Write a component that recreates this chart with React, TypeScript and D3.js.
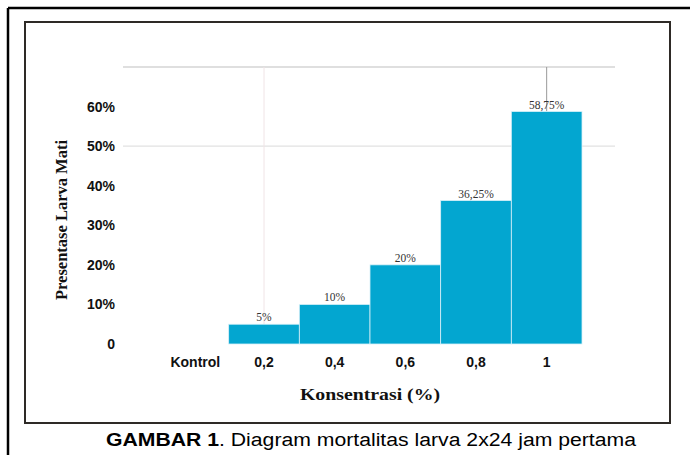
import * as d3 from "d3";

// Chart data
const categories = ["Kontrol", "0,2", "0,4", "0,6", "0,8", "1"];
const mortality = [0, 5, 10, 20, 36.25, 58.75];
const valueLabels = ["", "5%", "10%", "20%", "36,25%", "58,75%"];
const yTicks = [0, 10, 20, 30, 40, 50, 60];

const W = 690;
const H = 455;

export default function App() {
  const x = d3.scaleBand<string>().domain(categories).range([158, 582]).padding(0);
  const y = d3.scaleLinear().domain([0, 70]).range([344, 67]);
  const barColor = "#03a6d0";

  return (
    <svg
      width={W}
      height={H}
      style={{ position: "absolute", left: 0, top: 0, background: "#fff" }}
    >
      {/* outer and inner frames */}
      <line x1={8} y1={8} x2={W} y2={8} stroke="#000" strokeWidth={2.5} />
      <line x1={8} y1={8} x2={8} y2={H} stroke="#000" strokeWidth={2.5} />
      <rect x={25} y={22} width={645} height={401} fill="none" stroke="#2e2a26" strokeWidth={2} />

      {/* gridlines */}
      <line x1={123} x2={615} y1={y(70)} y2={y(70)} stroke="#d4d4d4" strokeWidth={1.5} />
      <line x1={123} x2={615} y1={y(50)} y2={y(50)} stroke="#e2e2e2" strokeWidth={1.2} />
      <line
        x1={x("0,2")! + x.bandwidth() / 2}
        x2={x("0,2")! + x.bandwidth() / 2}
        y1={y(70)}
        y2={y(5)}
        stroke="#f0e4e6"
        strokeWidth={1}
      />
      <line
        x1={x("1")! + x.bandwidth() / 2}
        x2={x("1")! + x.bandwidth() / 2}
        y1={y(70)}
        y2={y(58.75)}
        stroke="#9a9a9a"
        strokeWidth={1}
      />

      {/* bars */}
      {categories.map((c, i) =>
        mortality[i] > 0 ? (
          <rect
            key={c}
            x={x(c)!}
            y={y(mortality[i])}
            width={x.bandwidth()}
            height={y(0) - y(mortality[i])}
            fill={barColor}
            stroke="#d8f1f8"
            strokeWidth={0.8}
          />
        ) : null
      )}

      {/* value labels */}
      {categories.map((c, i) => (
        <text
          key={"v" + c}
          x={x(c)! + x.bandwidth() / 2}
          y={y(mortality[i]) - 3}
          textAnchor="middle"
          fontFamily="Liberation Serif, Times New Roman, serif"
          fontSize={11.5}
          fill="#333"
        >
          {valueLabels[i]}
        </text>
      ))}

      {/* y axis labels */}
      {yTicks.map((t) => (
        <text
          key={t}
          x={115}
          y={y(t)}
          dy="0.36em"
          textAnchor="end"
          fontFamily="Liberation Sans, Arial, sans-serif"
          fontWeight="bold"
          fontSize={14}
          fill="#111"
        >
          {t === 0 ? "0" : `${t}%`}
        </text>
      ))}

      {/* x axis labels */}
      {categories.map((c) => (
        <text
          key={"x" + c}
          x={x(c)! + x.bandwidth() / 2 + (c === "Kontrol" ? 2 : 0)}
          y={367}
          textAnchor="middle"
          fontFamily="Liberation Sans, Arial, sans-serif"
          fontWeight="bold"
          fontSize={14}
          fill="#111"
        >
          {c}
        </text>
      ))}

      {/* axis titles */}
      <text
        x={370}
        y={400}
        textAnchor="middle"
        fontFamily="Liberation Serif, Times New Roman, serif"
        fontWeight="bold"
        fontSize={16}
        textLength={140}
        lengthAdjust="spacingAndGlyphs"
        fill="#111"
      >
        Konsentrasi (%)
      </text>
      <text
        transform="translate(67,220) rotate(-90)"
        textAnchor="middle"
        fontFamily="Liberation Serif, Times New Roman, serif"
        fontWeight="bold"
        fontSize={16}
        textLength={160}
        lengthAdjust="spacingAndGlyphs"
        fill="#111"
      >
        Presentase Larva Mati
      </text>

      {/* caption */}
      <text
        x={371}
        y={446}
        textAnchor="middle"
        fontFamily="Liberation Sans, Arial, sans-serif"
        fontSize={18}
        textLength={530}
        lengthAdjust="spacingAndGlyphs"
        fill="#000"
      >
        <tspan fontWeight="bold">GAMBAR 1</tspan>. Diagram mortalitas larva 2x24 jam pertama
      </text>
    </svg>
  );
}
